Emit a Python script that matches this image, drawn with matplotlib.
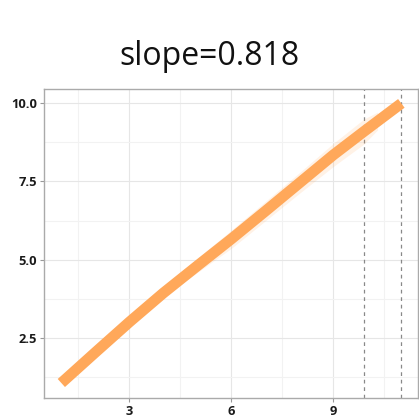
import matplotlib
matplotlib.use("Agg")
import matplotlib.pyplot as plt
import numpy as np

# data
x_vals = [1, 2, 3, 4, 5, 6, 7, 8, 9, 9.9, 11]
y_vals = [1.05, 2.03, 3.0, 3.93, 4.8, 5.66, 6.55, 7.45, 8.35, 9.1, 10.0]
band_x = [4.5, 6, 7, 8, 9, 9.9, 10.3]
band_lo = [4.2, 5.36, 6.24, 7.12, 7.98, 8.7, 9.15]
band_hi = [4.6, 5.94, 6.86, 7.78, 8.72, 9.5, 9.72]
vlines = [9.9, 11.0]
title = "slope=0.818"
xticks = [3, 6, 9]
yticks = [2.5, 5.0, 7.5, 10.0]

fig = plt.figure(figsize=(4.19, 4.19), dpi=100)
ax = fig.add_axes([44/419, 1-398/419, (418-44)/419, (398-89)/419])

ax.fill_between(band_x, band_lo, band_hi, color="#ffa85a", alpha=0.15, lw=0, zorder=2)
ax.plot(x_vals, y_vals, color="#ffa85a", lw=7.8, solid_capstyle="butt",
        solid_joinstyle="round", zorder=3)
for v in vlines:
    ax.axvline(v, color="#888888", ls=(0, (3, 3)), lw=0.9, zorder=1)

ax.set_xlim(0.49, 11.49)
ax.set_ylim(0.57, 10.46)
ax.set_xticks(xticks)
ax.set_yticks(yticks)
ax.set_xticklabels([str(t) for t in xticks])
ax.set_yticklabels([f"{t:.1f}" for t in yticks])
ax.set_xticks([1.5, 4.5, 7.5, 10.5], minor=True)
ax.set_yticks([1.25, 3.75, 6.25, 8.75], minor=True)
ax.grid(True, which="major", color="#e6e6e6", lw=0.8, zorder=0)
ax.grid(True, which="minor", color="#f2f2f2", lw=0.8, zorder=0)
ax.set_axisbelow(True)
ax.tick_params(which="minor", length=0)
ax.tick_params(which="major", length=3, width=0.8, color="#999999", pad=2)
for lab in ax.get_xticklabels() + ax.get_yticklabels():
    lab.set_fontfamily("Open Sans")
    lab.set_fontweight("bold")
    lab.set_fontsize(9.3)
    lab.set_color("#1a1a1a")
for s in ax.spines.values():
    s.set_color("#aaaaaa")
    s.set_linewidth(1.0)

fig.text(0.5, 1-65/419, title, ha="center", va="baseline", fontsize=23,
         family="Open Sans", fontweight="normal", color="#111111")

fig.savefig("out.png", dpi=100)
